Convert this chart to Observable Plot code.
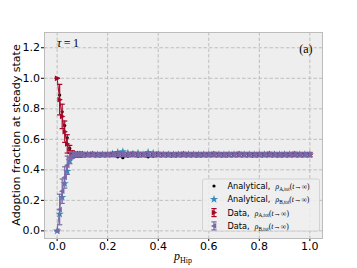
<!DOCTYPE html>
<html><head><meta charset="utf-8">
<script src="https://cdn.jsdelivr.net/npm/d3@7"></script>
<script src="https://cdn.jsdelivr.net/npm/@observablehq/plot@0.6"></script>
<style>body{margin:0;background:#fff;} svg{display:block}</style>
</head><body><div id="chart"></div>
<script>
const pHip = [0,0.01,0.02,0.03,0.04,0.05,0.06,0.07,0.08,0.09,0.10,
  0.12,0.14,0.16,0.18,0.20,0.22,0.24,0.26,0.28,0.30,0.32,0.34,0.36,0.38,0.40,
  0.42,0.44,0.46,0.48,0.50,0.52,0.54,0.56,0.58,0.60,0.62,0.64,0.66,0.68,0.70,
  0.72,0.74,0.76,0.78,0.80,0.82,0.84,0.86,0.88,0.90,0.92,0.94,0.96,0.98,1.00];

const analyticalA = [1.00,0.89,0.78,0.69,0.61,0.54,0.50,0.50,0.50,0.50,0.50,
  0.50,0.50,0.50,0.50,0.50,0.495,0.485,0.48,0.49,0.495,0.49,0.50,0.485,0.49,0.50,
  0.50,0.50,0.50,0.50,0.50,0.50,0.50,0.50,0.50,0.50,0.50,0.50,0.50,0.50,0.50,
  0.50,0.50,0.50,0.50,0.50,0.50,0.50,0.50,0.50,0.50,0.50,0.50,0.50,0.50,0.50];

const analyticalB = [0.00,0.11,0.22,0.31,0.39,0.46,0.50,0.50,0.50,0.50,0.50,
  0.50,0.50,0.50,0.50,0.50,0.505,0.515,0.52,0.51,0.505,0.51,0.50,0.515,0.51,0.50,
  0.50,0.50,0.50,0.50,0.50,0.50,0.50,0.50,0.50,0.50,0.50,0.50,0.50,0.50,0.50,
  0.50,0.50,0.50,0.50,0.50,0.50,0.50,0.50,0.50,0.50,0.50,0.50,0.50,0.50,0.50];

const dataA = [1.00,0.86,0.75,0.65,0.57,0.52,0.505,0.50,0.50,0.50,0.50,
  0.500,0.501,0.499,0.500,0.500,0.501,0.500,0.499,0.500,
  0.501,0.500,0.500,0.499,0.500,0.501,0.500,0.500,0.499,
  0.500,0.501,0.500,0.500,0.499,0.500,0.500,0.501,0.500,
  0.499,0.500,0.500,0.501,0.500,0.500,0.499,0.500,0.500,
  0.501,0.500,0.499,0.500,0.500,0.501,0.500,0.500,0.500];

const dataAErr = [0.00,0.10,0.08,0.07,0.06,0.04,0.02,0.015,0.015,0.015,0.015,
  0.014,0.014,0.014,0.014,0.014,0.014,0.014,0.014,0.014,
  0.014,0.014,0.014,0.014,0.014,0.014,0.014,0.014,0.014,
  0.014,0.014,0.014,0.014,0.014,0.014,0.014,0.014,0.014,
  0.014,0.014,0.014,0.014,0.014,0.014,0.014,0.014,0.014,
  0.014,0.014,0.014,0.014,0.014,0.014,0.014,0.014,0.014];

const dataB = [0.00,0.14,0.26,0.35,0.43,0.48,0.495,0.50,0.50,0.50,0.50,
  0.500,0.499,0.501,0.500,0.500,0.499,0.500,0.501,0.500,
  0.499,0.500,0.500,0.501,0.500,0.499,0.500,0.500,0.501,
  0.500,0.499,0.500,0.500,0.501,0.500,0.500,0.499,0.500,
  0.501,0.500,0.500,0.499,0.500,0.500,0.501,0.500,0.500,
  0.499,0.500,0.501,0.500,0.500,0.499,0.500,0.500,0.500];

const dataBErr = [0.00,0.10,0.08,0.07,0.06,0.04,0.02,0.013,0.013,0.013,0.013,
  0.013,0.013,0.013,0.013,0.013,0.013,0.013,0.013,0.013,
  0.013,0.013,0.013,0.013,0.013,0.013,0.013,0.013,0.013,
  0.013,0.013,0.013,0.013,0.013,0.013,0.013,0.013,0.013,
  0.013,0.013,0.013,0.013,0.013,0.013,0.013,0.013,0.013,
  0.013,0.013,0.013,0.013,0.013,0.013,0.013,0.013,0.013];

const xTicks = [0.0,0.2,0.4,0.6,0.8,1.0];
const yTicks = [0.0,0.2,0.4,0.6,0.8,1.0,1.2];
const yLabel = "Adoption fraction at steady state";
const panelLabel = "(a)";
const legendPrefixes = ["Analytical,", "Analytical,", "Data,", "Data,"];
const legendSubs = ["A,tot", "B,tot", "A,tot", "B,tot"];

const RED = "#A60628", PURPLE = "#7A68A6", BLUE = "#348ABD";
const W = 357, H = 268, ML = 44, MR = 35, MT = 32, MB = 30;

const rows = pHip.map((p, i) => ({
  p, aA: analyticalA[i], aB: analyticalB[i],
  dA: dataA[i], eA: dataAErr[i], dB: dataB[i], eB: dataBErr[i]
}));

const triRight = {draw(ctx, size) {const r = Math.sqrt(size / Math.PI);
  ctx.moveTo(r, 0); ctx.lineTo(-r * 0.7, r * 0.9); ctx.lineTo(-r * 0.7, -r * 0.9); ctx.closePath();}};
const triLeft = {draw(ctx, size) {const r = Math.sqrt(size / Math.PI);
  ctx.moveTo(-r, 0); ctx.lineTo(r * 0.7, r * 0.9); ctx.lineTo(r * 0.7, -r * 0.9); ctx.closePath();}};
const cap = {draw(ctx, size) {const r = Math.sqrt(size / Math.PI);
  ctx.moveTo(-r, 0); ctx.lineTo(r, 0);}};

function errMarks(key, ekey, color) {
  return [
    Plot.ruleX(rows, {x: "p", y1: d => d[key] - d[ekey], y2: d => d[key] + d[ekey], stroke: color, strokeWidth: 1.2}),
    Plot.dot(rows, {x: "p", y: d => d[key] - d[ekey], symbol: cap, r: 2.6, stroke: color, strokeWidth: 1.2, fill: "none"}),
    Plot.dot(rows, {x: "p", y: d => d[key] + d[ekey], symbol: cap, r: 2.6, stroke: color, strokeWidth: 1.2, fill: "none"})
  ];
}

const chart = Plot.plot({
  width: W, height: H,
  marginLeft: ML, marginRight: MR, marginTop: MT, marginBottom: MB,
  style: {fontFamily: "DejaVu Sans", fontSize: "11px", background: "#fff", color: "#000"},
  x: {domain: [-0.05, 1.05], ticks: xTicks, tickFormat: d3.format(".1f"), label: null, tickSize: 3, tickPadding: 1},
  y: {domain: [-0.05, 1.3], ticks: yTicks, tickFormat: d3.format(".1f"), label: null, tickSize: 3, tickPadding: 1.5},
  marks: [
    Plot.frame({fill: "#eeeeee", stroke: null}),
    Plot.gridX(xTicks, {stroke: "#b2b2b2", strokeOpacity: 1, strokeWidth: 0.8, strokeDasharray: "3.5,2"}),
    Plot.gridY(yTicks, {stroke: "#b2b2b2", strokeOpacity: 1, strokeWidth: 0.8, strokeDasharray: "3.5,2"}),
    Plot.dot(rows, {x: "p", y: "aA", r: 1.6, fill: "#000", stroke: null}),
    Plot.dot(rows, {x: "p", y: "aB", symbol: "star", r: 2.6, fill: BLUE, stroke: null}),
    ...errMarks("dA", "eA", RED),
    Plot.line(rows, {x: "p", y: "dA", stroke: RED, strokeWidth: 1}),
    Plot.dot(rows, {x: "p", y: "dA", symbol: triRight, r: 3.2, fill: RED, stroke: null}),
    ...errMarks("dB", "eB", PURPLE),
    Plot.line(rows, {x: "p", y: "dB", stroke: PURPLE, strokeWidth: 1}),
    Plot.dot(rows, {x: "p", y: "dB", symbol: triLeft, r: 3.2, fill: PURPLE, stroke: null}),
    Plot.frame({stroke: "#bcbcbc", strokeWidth: 1}),
    Plot.text([panelLabel], {text: d => d, frameAnchor: "top-right", dx: -10, dy: 12, fontSize: 12, fontFamily: "Liberation Serif", fill: "#000"})
  ]
});
document.getElementById("chart").appendChild(chart);

const svg = d3.select(chart);
const serif = "Liberation Serif";
const right = W - MR, bottom = H - MB;

function mathText(g, x, y, segs, anchor) {
  const t = g.append("text").attr("x", x).attr("y", y).attr("text-anchor", anchor || "start")
    .attr("font-family", serif).attr("fill", "#000");
  let shift = 0;
  segs.forEach(s => {
    const ts = t.append("tspan").text(s.t).attr("font-size", s.size)
      .attr("font-style", s.italic ? "italic" : "normal")
      .attr("font-family", s.family || serif);
    const target = s.sub || 0;
    if (target !== shift) { ts.attr("dy", target - shift); shift = target; }
  });
  return t;
}

const g = svg.append("g");
// y label
g.append("text").text(yLabel)
  .attr("transform", `translate(19.5,${(MT + bottom) / 2}) rotate(-90)`)
  .attr("text-anchor", "middle").attr("font-family", "DejaVu Sans").attr("font-size", 11).attr("fill", "#000");
// tau label
mathText(g, ML + 13, MT + 15, [
  {t: "τ", italic: true, size: 12},
  {t: "\u2009=\u2009", size: 12},
  {t: "1", size: 12}
]);
// x label
mathText(g, (ML + right) / 2, H - 8, [
  {t: "p", italic: true, size: 12},
  {t: "Hip", size: 8, sub: 2.5}
], "middle");

// legend
const lg = g.append("g");
const bx = right - 119.5, by = bottom - 59;
lg.append("rect").attr("x", bx).attr("y", by).attr("width", 117).attr("height", 52)
  .attr("rx", 2).attr("fill", "#eeeeee").attr("fill-opacity", 0.85).attr("stroke", "#cccccc").attr("stroke-width", 0.8);
const sym = (type, r) => d3.symbol().type(type).size(Math.PI * r * r)();
const rowY = i => by + 7 + i * 13.3;
const mx = bx + 11.5;
legendPrefixes.forEach((pre, i) => {
  const y = rowY(i);
  if (i === 0) lg.append("circle").attr("cx", mx).attr("cy", y).attr("r", 1.6).attr("fill", "#000");
  if (i === 1) lg.append("path").attr("d", sym(d3.symbolStar, 2.6)).attr("transform", `translate(${mx},${y})`).attr("fill", BLUE);
  if (i >= 2) {
    const c = i === 2 ? RED : PURPLE;
    lg.append("line").attr("x1", mx).attr("x2", mx).attr("y1", y - 4).attr("y2", y + 4).attr("stroke", c).attr("stroke-width", 1.2);
    lg.append("line").attr("x1", mx - 2.6).attr("x2", mx + 2.6).attr("y1", y - 4).attr("y2", y - 4).attr("stroke", c).attr("stroke-width", 1.2);
    lg.append("line").attr("x1", mx - 2.6).attr("x2", mx + 2.6).attr("y1", y + 4).attr("y2", y + 4).attr("stroke", c).attr("stroke-width", 1.2);
    const s = i === 2 ? triRight : triLeft;
    lg.append("path").attr("d", d3.symbol().type(s).size(Math.PI * 3.2 * 3.2)()).attr("transform", `translate(${mx},${y})`).attr("fill", c);
  }
  mathText(lg, bx + 25, y + 3, [
    {t: pre + "\u00a0\u00a0", size: 8.2, family: "DejaVu Sans"},
    {t: "ρ", italic: true, size: 7.5},
    {t: legendSubs[i], size: 5.2, sub: 1.8},
    {t: "(", size: 7.5, sub: 0},
    {t: "t", italic: true, size: 7.5},
    {t: "→∞)", size: 7.5}
  ]);
});
</script>
</body></html>
